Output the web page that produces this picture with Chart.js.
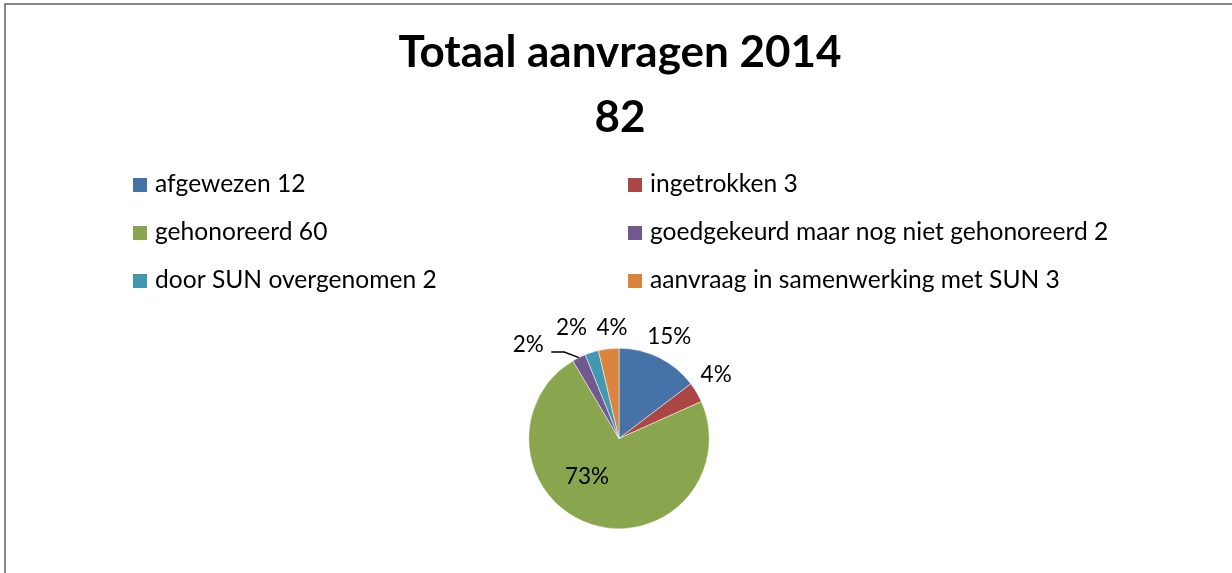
<!DOCTYPE html>
<html>
<head>
<meta charset="utf-8">
<script src="https://cdn.jsdelivr.net/npm/chart.js@4/dist/chart.umd.min.js"></script>
<style>
  body { margin: 0; background: #fff; }
  #wrap { width: 1232px; height: 573px; position: relative; }
</style>
</head>
<body>
<div id="wrap"><canvas id="pieChart" width="1232" height="573"></canvas></div>
<script>
// data
var titleLines = ['Totaal aanvragen 2014', '82'];
var categories = ['afgewezen', 'ingetrokken', 'gehonoreerd', 'goedgekeurd maar nog niet gehonoreerd', 'door SUN overgenomen', 'aanvraag in samenwerking met SUN'];
var counts = [12, 3, 60, 2, 2, 3];
var colors = ['#4572A7', '#AA4643', '#89A54E', '#71588F', '#4198AF', '#DB843D'];

// label placement tweaks (degrees shift, distance from edge; negative = inside)
var labelShift = [0, -2.6, 22, -17.8, -5.7, 3];
var labelGap = [23, 26, -40, 40, 30, 21];

var total = counts.reduce(function (a, b) { return a + b; }, 0);
var legendLabels = categories.map(function (c, i) { return c + ' ' + counts[i]; });

var decorPlugin = {
    id: 'decor',
    beforeDraw: function (chart) {
        var ctx = chart.ctx;
        ctx.save();
        // frame
        ctx.strokeStyle = '#878787';
        ctx.lineWidth = 2;
        ctx.beginPath();
        ctx.moveTo(5, 600);
        ctx.lineTo(5, 4);
        ctx.lineTo(1300, 4);
        ctx.stroke();

        // title
        ctx.fillStyle = '#000';
        ctx.textAlign = 'center';
        ctx.textBaseline = 'alphabetic';
        ctx.font = 'bold 44px Lato';
        ctx.fillText(titleLines[0], 620, 67);
        ctx.fillText(titleLines[1], 620, 132);

        // legend, two columns
        ctx.font = '24.6px Lato';
        ctx.textAlign = 'left';
        var colX = [133, 628];
        for (var i = 0; i < legendLabels.length; i++) {
            var x = colX[i % 2];
            var base = 192 + Math.floor(i / 2) * 48;
            ctx.fillStyle = colors[i];
            ctx.fillRect(x, base - 14, 14, 14);
            ctx.fillStyle = '#000';
            ctx.fillText(legendLabels[i], x + 22, base);
        }
        ctx.restore();
    },
    afterDatasetsDraw: function (chart) {
        var ctx = chart.ctx;
        var arcs = chart.getDatasetMeta(0).data;
        ctx.save();
        ctx.font = '22.5px Lato';
        ctx.fillStyle = '#000';
        ctx.textAlign = 'center';
        ctx.textBaseline = 'middle';
        arcs.forEach(function (arc, i) {
            var mid = (arc.startAngle + arc.endAngle) / 2;
            var a = mid + labelShift[i] * Math.PI / 180;
            var r = arc.outerRadius + labelGap[i];
            var lx = arc.x + Math.cos(a) * r;
            var ly = arc.y + Math.sin(a) * r;
            var pct = Math.round(counts[i] / total * 100) + '%';
            ctx.fillText(pct, lx, ly);
            if (i === 3) {
                // leader line to the small purple slice
                var ex = arc.x + Math.cos(mid) * arc.outerRadius;
                var ey = arc.y + Math.sin(mid) * arc.outerRadius;
                ctx.strokeStyle = '#000';
                ctx.lineWidth = 1.5;
                ctx.beginPath();
                ctx.moveTo(lx + 23, ly + 7);
                ctx.lineTo(lx + 36, ly + 7);
                ctx.lineTo(ex, ey);
                ctx.stroke();
            }
        });
        ctx.restore();
    }
};

new Chart(document.getElementById('pieChart').getContext('2d'), {
    type: 'pie',
    data: {
        labels: categories,
        datasets: [{
            data: counts,
            backgroundColor: colors,
            borderColor: '#ffffff',
            borderWidth: 0.5
        }]
    },
    options: {
        responsive: false,
        animation: false,
        layout: { padding: { top: 348, bottom: 44, left: 6, right: 0 } },
        plugins: {
            legend: { display: false },
            title: { display: false },
            tooltip: { enabled: false }
        }
    },
    plugins: [decorPlugin]
});
</script>
</body>
</html>
